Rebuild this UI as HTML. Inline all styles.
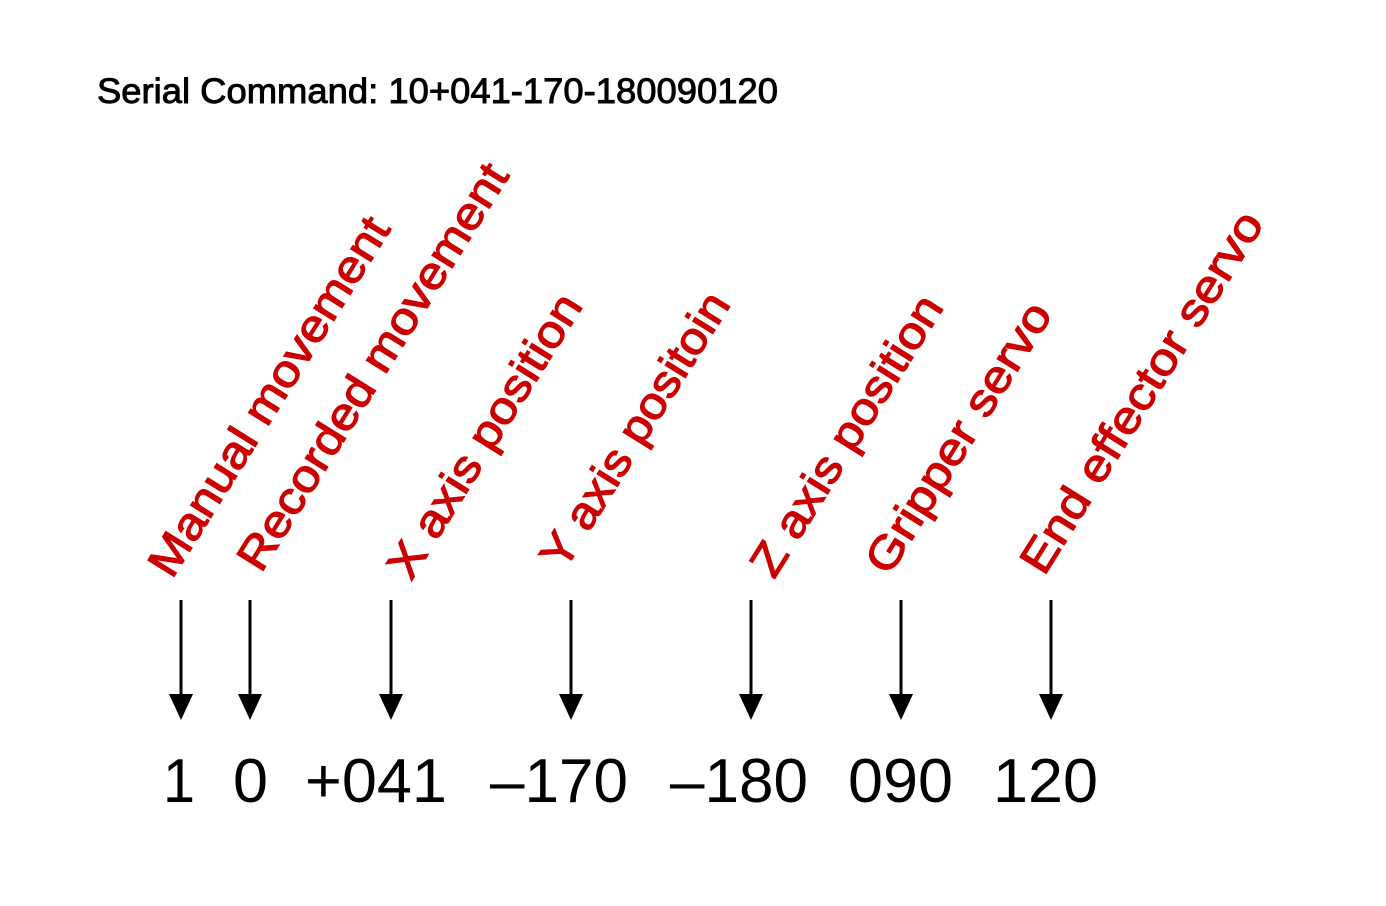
<!DOCTYPE html>
<html><head><meta charset="utf-8"><style>
html,body{margin:0;padding:0;background:#fff;}
svg{display:block;}
</style></head><body>
<svg id="diagram" width="1386" height="906" viewBox="0 0 1386 906" xmlns="http://www.w3.org/2000/svg">
<rect width="1386" height="906" fill="#fff"/>
<text x="97" y="103" font-family="Liberation Sans, sans-serif" font-size="35" fill="#000" stroke="#000" stroke-width="0.9" textLength="681" lengthAdjust="spacingAndGlyphs">Serial Command: 10+041-170-180090120</text>
<g id="labels"></g>
<g id="arrows"></g>
<g id="values"></g>
</svg>
<script>
const labels = ["Manual movement","Recorded movement","X axis position","Y axis positoin","Z axis position","Gripper servo","End effector servo"];
const values = ["1","0","+041","-170","-180","090","120"];
const arrowX = [181,250,391,571,751,901,1051];
const NS="http://www.w3.org/2000/svg";
const labelPos=[[172,580,414],[261,574,470],[411,582,326],[564,572,316],[774,580,322],[889,577,310],[1044,577,417]];
const valPos=[[163,32],[233,35],[305,142],[490,138],[670,138],[848,105],[993,105]];
const gL=document.getElementById('labels'),gA=document.getElementById('arrows'),gV=document.getElementById('values');
labels.forEach((t,i)=>{
  const [x,y,len]=labelPos[i];
  const el=document.createElementNS(NS,'text');
  
  
  el.setAttribute('x',x);el.setAttribute('y',y);
  el.setAttribute('transform',`rotate(-58 ${x} ${y})`);
  el.setAttribute('font-family','Liberation Sans, sans-serif');
  el.setAttribute('font-size','45');
  el.setAttribute('fill','#cc0000');
  el.setAttribute('stroke','#cc0000');
  el.setAttribute('stroke-width','1.2');
  el.setAttribute('textLength',len);
  el.setAttribute('lengthAdjust','spacingAndGlyphs');
  el.textContent=t;gL.appendChild(el);
});
arrowX.forEach(x=>{
  const l=document.createElementNS(NS,'line');
  
  
  l.setAttribute('x1',x);l.setAttribute('x2',x);l.setAttribute('y1',600);l.setAttribute('y2',700);
  l.setAttribute('stroke','#000');l.setAttribute('stroke-width','3');
  gA.appendChild(l);
  const p=document.createElementNS(NS,'polygon');
  
  
  p.setAttribute('points',`${x-12},694 ${x+12},694 ${x},720`);
  p.setAttribute('fill','#000');
  gA.appendChild(p);
});
values.forEach((v,i)=>{
  const [x,len]=valPos[i];
  const el=document.createElementNS(NS,'text');
  
  
  el.setAttribute('x',x);el.setAttribute('y',802);
  el.setAttribute('font-family','Liberation Sans, sans-serif');
  el.setAttribute('font-size','62');
  el.setAttribute('fill','#000');
  el.setAttribute('textLength',len);
  el.setAttribute('lengthAdjust','spacingAndGlyphs');
  el.textContent=v.replace('-','\u2013');gV.appendChild(el);
});
</script>
</body></html>
